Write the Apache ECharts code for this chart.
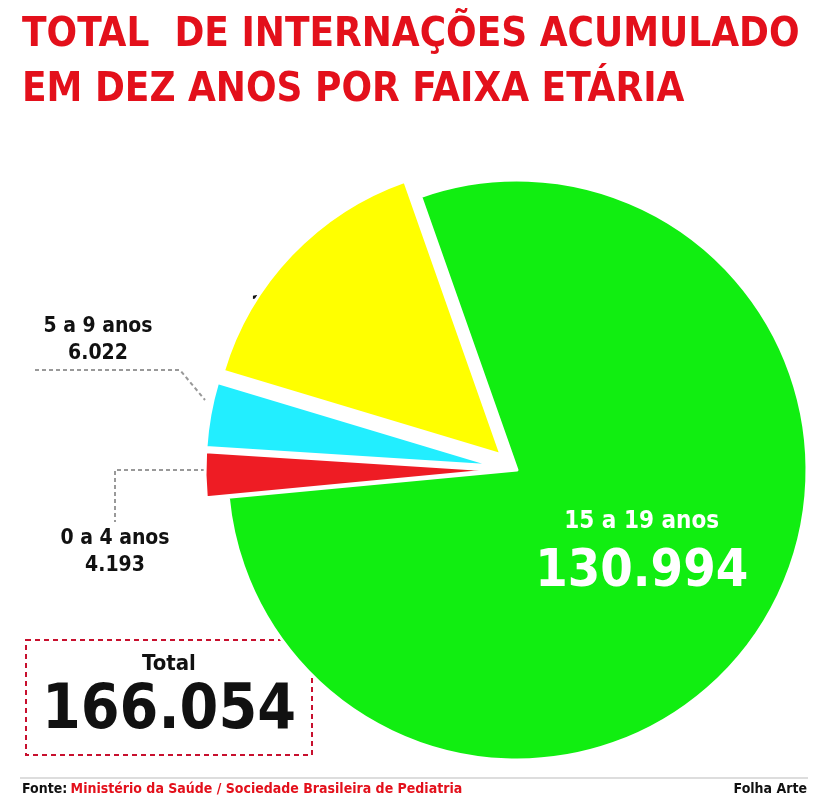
<!DOCTYPE html>
<html>
<head>
<meta charset="utf-8">
<script src="https://cdn.jsdelivr.net/npm/echarts@6/dist/echarts.min.js"></script>
<style>
  html, body { margin: 0; padding: 0; background: #fff; }
  #chart { width: 825px; height: 800px; }
</style>
</head>
<body>
<div id="chart"></div>
<script>
// Data
const ageGroups = ['15 a 19 anos', '0 a 4 anos', '5 a 9 anos', '10 a 14 anos'];
const admissions = [130994, 4193, 6022, 24845];
const sliceColors = ['#11ee11', '#ee1c24', '#22eeff', '#ffff00'];
const totalLabel = '166.054';

const fmt = v => v.toLocaleString('de-DE');
const font = '"DejaVu Sans Condensed", "DejaVu Sans", sans-serif';

// label text for the small slices, placed by hand
function sliceText(i, x, y, size) {
    return {
        type: 'text', x: x, y: y,
        style: { text: ageGroups[i] + '\n' + fmt(admissions[i]), font: 'bold ' + size + 'px ' + font, fill: '#111', align: 'center', verticalAlign: 'middle', lineHeight: size + 6 }
    };
}

const chart = echarts.init(document.getElementById('chart'));

const options = {
    animation: false,
    graphic: [
        { type: 'text', left: 22, top: 16, style: { text: 'TOTAL  DE INTERNAÇÕES ACUMULADO', font: 'bold 40px ' + font, fill: '#e3101b' } },
        { type: 'text', left: 22, top: 71, style: { text: 'EM DEZ ANOS POR FAIXA ETÁRIA', font: 'bold 40px ' + font, fill: '#e3101b' } },
        sliceText(3, 328, 322, 24),
        sliceText(2, 98, 340, 21),
        sliceText(1, 115, 552, 21),
        { type: 'polyline', shape: { points: [[35, 370], [180, 370], [205, 400]] }, style: { fill: 'none', stroke: '#999', lineWidth: 2, lineDash: [4, 3] } },
        { type: 'polyline', shape: { points: [[205, 470], [115, 470], [115, 522]] }, style: { fill: 'none', stroke: '#999', lineWidth: 2, lineDash: [4, 3] } },
        { type: 'rect', shape: { x: 26, y: 640, width: 286, height: 115 }, style: { fill: 'none', stroke: '#c8102e', lineWidth: 2, lineDash: [5, 4] } },
        { type: 'text', x: 169, y: 664, style: { text: 'Total', font: 'bold 22px ' + font, fill: '#111', align: 'center', verticalAlign: 'middle' } },
        { type: 'text', x: 169, y: 712, style: { text: totalLabel, font: 'bold 62px ' + font, fill: '#111', align: 'center', verticalAlign: 'middle' } },
        { type: 'line', shape: { x1: 20, y1: 778, x2: 808, y2: 778 }, style: { stroke: '#bbb', lineWidth: 1 } },
        { type: 'text', left: 22, top: 782, style: { rich: { a: { font: 'bold 14px ' + font, fill: '#111' }, b: { font: 'bold 14px ' + font, fill: '#e3101b' } }, text: '{a|Fonte:} {b|Ministério da Saúde / Sociedade Brasileira de Pediatria}' } },
        { type: 'text', right: 18, top: 782, style: { text: 'Folha Arte', font: 'bold 14px ' + font, fill: '#111' } }
    ],
    series: [
        {
            type: 'pie',
            center: [517, 470],
            radius: [0, 290],
            startAngle: 109.4,
            clockwise: true,
            selectedMode: 'multiple',
            selectedOffset: 22,
            itemStyle: { borderColor: '#fff', borderWidth: 3 },
            labelLine: { show: false },
            data: ageGroups.map((name, i) => ({
                name: name,
                value: admissions[i],
                selected: i > 0,
                itemStyle: { color: sliceColors[i] },
                label: i === 0 ? {
                    show: true,
                    position: 'inside',
                    formatter: '{n|{b}}\n{v|' + fmt(admissions[i]) + '}',
                    rich: {
                        n: { fontFamily: font, fontWeight: 'bold', fontSize: 24, color: '#fff', lineHeight: 46 },
                        v: { fontFamily: font, fontWeight: 'bold', fontSize: 52, color: '#fff', lineHeight: 56 }
                    }
                } : { show: false }
            }))
        }
    ]
};

chart.setOption(options);
</script>
</body>
</html>
